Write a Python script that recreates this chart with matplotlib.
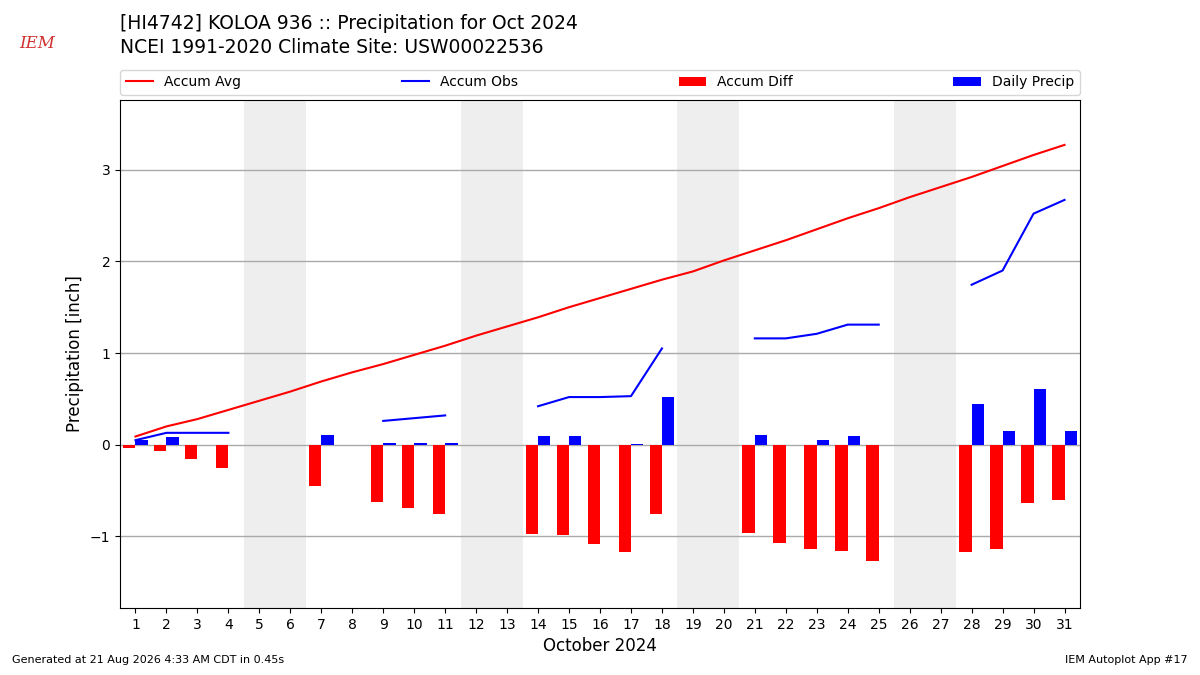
import numpy as np
import matplotlib
matplotlib.use("Agg")
import matplotlib.pyplot as plt

days = list(range(1, 32))
nan = np.nan
accum_avg = [0.09, 0.20, 0.28, 0.38, 0.48, 0.58, 0.69, 0.79, 0.88, 0.98,
             1.08, 1.19, 1.29, 1.39, 1.50, 1.60, 1.70, 1.80, 1.89, 2.01,
             2.12, 2.23, 2.35, 2.47, 2.58, 2.70, 2.81, 2.92, 3.04, 3.16, 3.27]
accum_obs = [0.05, 0.13, 0.13, 0.13, nan, nan, 0.24, nan, 0.26, 0.29,
             0.32, nan, nan, 0.42, 0.52, 0.52, 0.53, 1.05, nan, nan,
             1.16, 1.16, 1.21, 1.31, 1.31, nan, nan, 1.745, 1.90, 2.52, 2.67]
daily = [0.05, 0.08, 0.0, 0.0, nan, nan, 0.11, nan, 0.02, 0.02,
         0.02, nan, nan, 0.10, 0.10, 0.0, 0.01, 0.52, nan, nan,
         0.11, 0.0, 0.05, 0.10, 0.0, nan, nan, 0.44, 0.15, 0.61, 0.15]
weekends = [5, 12, 19, 26]

days_a = np.array(days)
avg_a = np.array(accum_avg)
obs_a = np.array(accum_obs)
diff_a = obs_a - avg_a
daily_a = np.array(daily)

fig = plt.figure(figsize=(12, 6.75), dpi=100)
ax = fig.add_axes([0.1, 0.0993, 0.8, 0.7526])

for w in weekends:
    ax.axvspan(w - 0.5, w + 1.5, color="#eeeeee", zorder=0, lw=0)

ax.plot(days_a, avg_a, color="red", lw=1.5, label="Accum Avg", zorder=3)
ax.plot(days_a, obs_a, color="blue", lw=1.5, label="Accum Obs", zorder=3)
ax.bar(days_a, diff_a, width=-0.4, align="edge", color="red", label="Accum Diff", zorder=2)
ax.bar(days_a, daily_a, width=0.4, align="edge", color="blue", label="Daily Precip", zorder=2)

ax.set_xlim(0.5, 31.5)
ax.set_ylim(-1.78, 3.76)
ax.set_xticks(days)
ax.set_yticks([-1, 0, 1, 2, 3])
ax.grid(axis="y", color="#aaaaaa", lw=1, zorder=1)
ax.set_axisbelow(True)
ax.set_xlabel("October 2024", fontsize=12)
ax.set_ylabel("Precipitation [inch]", fontsize=12)
ax.tick_params(labelsize=10)

ax.legend(loc="lower left", bbox_to_anchor=(0, 1.01, 1, 0.05), mode="expand",
          ncol=4, fontsize=10, borderaxespad=0)

fig.text(0.1, 0.947, "[HI4742] KOLOA 936 :: Precipitation for Oct 2024\nNCEI 1991-2020 Climate Site: USW00022536",
         fontsize=13.5, ha="left", va="center", linespacing=1.35)
fig.text(0.031, 0.936, "IEM", fontsize=12, color="#d03030", family="DejaVu Serif",
         style="italic", ha="center", va="center")
fig.text(0.01, 0.015, "Generated at 21 Aug 2026 4:33 AM CDT in 0.45s", fontsize=8, ha="left", va="bottom")
fig.text(0.99, 0.015, "IEM Autoplot App #17", fontsize=8, ha="right", va="bottom")

fig.savefig("out.png", dpi=100)
